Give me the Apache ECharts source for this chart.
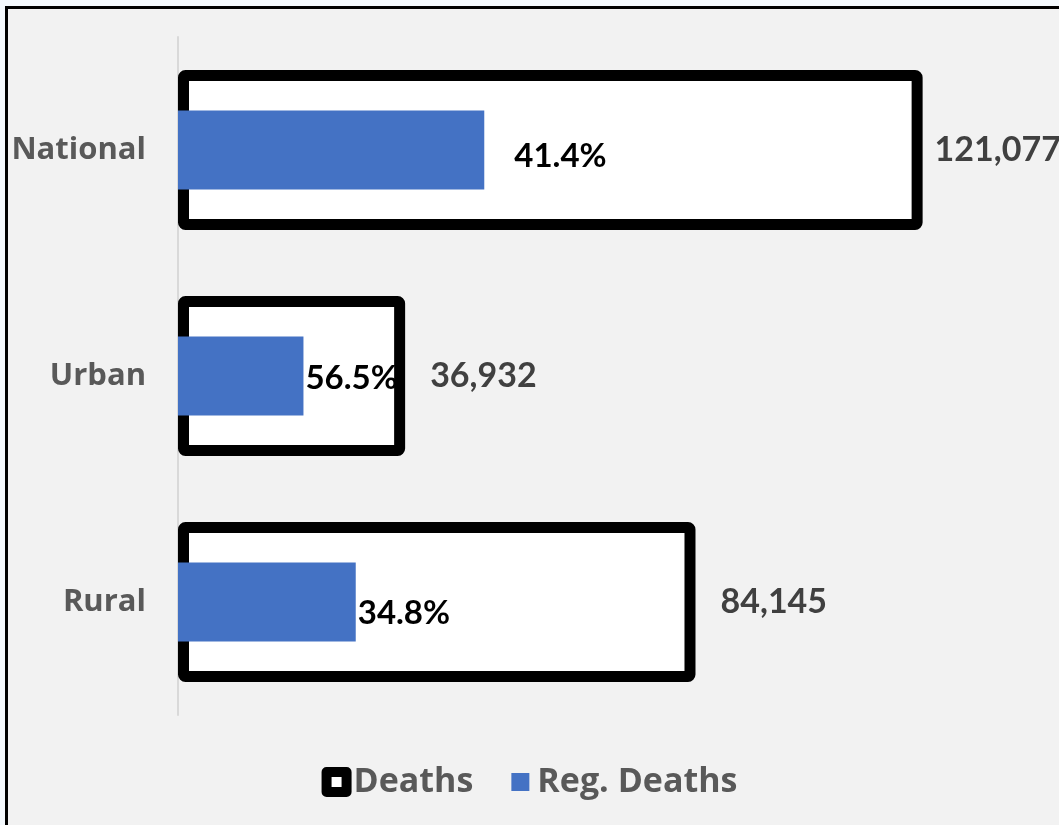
<!DOCTYPE html>
<html>
<head>
<meta charset="utf-8">
<script src="https://cdn.jsdelivr.net/npm/echarts@6/dist/echarts.min.js"></script>
<style>
  html, body { margin: 0; padding: 0; background: #f4f9fd; width: 1059px; height: 825px; overflow: hidden; }
  #frame { position: absolute; left: 5px; top: 6px; width: 1059px; height: 825px; background: #f2f2f2; border-left: 3px solid #000; border-top: 3px solid #000; }
  #chart { position: absolute; left: 0; top: 0; width: 1059px; height: 825px; }
</style>
</head>
<body>
<div id="frame"></div>
<div id="chart"></div>
<script>
const categories = ['National', 'Urban', 'Rural'];
const deaths = [121077, 36932, 84145];
const regDeaths = [49800, 20400, 28900];
const regPctLabels = ['41.4%', '56.5%', '34.8%'];
const seriesNames = ['Deaths', 'Reg. Deaths'];

const TXT_FONT = 'Open Sans';
const NUM_FONT = 'Lato';
const chart = echarts.init(document.getElementById('chart'), null, { renderer: 'canvas' });

const deathLabelDist = [12, 25, 25];
const pctLabelDist = [30, 2, 2];
const pctLabelOffsetY = [6, 2, 11];

chart.setOption({
  backgroundColor: 'transparent',
  animation: false,
  grid: { left: 178, top: 37, bottom: 110, right: 20, containLabel: false },
  xAxis: {
    type: 'value', min: 0, max: 140000,
    show: false
  },
  yAxis: [
    {
      type: 'category', data: categories, inverse: true,
      axisLine: { show: true, lineStyle: { color: '#d9d9d9', width: 2 } },
      axisTick: { show: false },
      axisLabel: { color: '#595959', fontFamily: TXT_FONT, fontWeight: 'bold', fontSize: 31, margin: 32 }
    },
    {
      type: 'category', data: categories, inverse: true, show: false
    }
  ],
  legend: {
    bottom: 21, left: 'center',
    itemWidth: 20, itemHeight: 20, itemGap: 36,
    icon: 'rect',
    textStyle: { color: '#595959', fontFamily: TXT_FONT, fontWeight: 'bold', fontSize: 34, padding: [0, 0, 0, 2] },
    data: [
      { name: seriesNames[0], itemStyle: { color: '#ffffff', borderColor: '#000000', borderWidth: 10, borderJoin: 'round' } },
      { name: seriesNames[1], itemStyle: { color: '#4472c4', borderColor: '#f2f2f2', borderWidth: 2 } }
    ]
  },
  series: [
    {
      name: seriesNames[0], type: 'bar', yAxisIndex: 0, barWidth: 160, z: 2,
      itemStyle: { color: '#ffffff', borderColor: '#000000', borderWidth: 11, borderRadius: 2 },
      data: deaths.map((v, i) => ({
        value: v,
        label: { distance: deathLabelDist[i] }
      })),
      label: {
        show: true, position: 'right',
        color: '#404040', fontFamily: NUM_FONT, fontWeight: 'bold', fontSize: 34,
        formatter: p => p.value.toLocaleString('en-US')
      }
    },
    {
      name: seriesNames[1], type: 'bar', yAxisIndex: 1, barWidth: 79, z: 3,
      itemStyle: { color: '#4472c4' },
      data: regDeaths.map((v, i) => ({
        value: v,
        label: { distance: pctLabelDist[i], offset: [0, pctLabelOffsetY[i]] }
      })),
      label: {
        show: true, position: 'right',
        color: '#000000', fontFamily: NUM_FONT, fontWeight: 'bold', fontSize: 33,
        formatter: p => regPctLabels[p.dataIndex]
      }
    }
  ]
});
</script>
</body>
</html>
